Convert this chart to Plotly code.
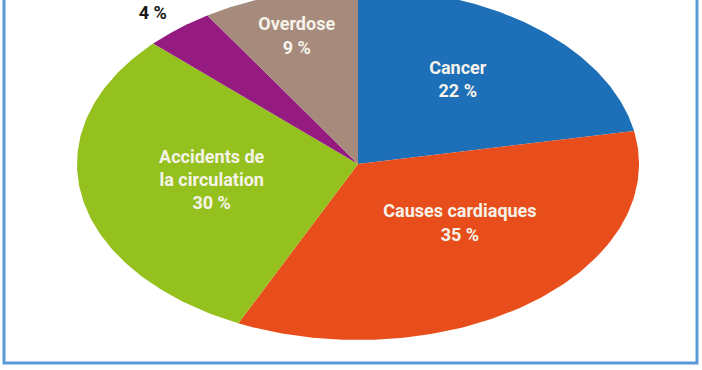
import numpy as np
import plotly.graph_objects as go

# ---- data ----
categories = ["Cancer", "Causes cardiaques", "Accidents de la circulation", "Autres", "Overdose"]
shares = [22, 35, 30, 4, 9]
label_texts = ["Cancer<br>22 %", "Causes cardiaques<br>35 %",
               "Accidents de<br>la circulation<br>30 %", "4 %", "Overdose<br>9 %"]

# ---- style ----
colors = ["#1d6fb8", "#e84e1b", "#95c11f", "#951b81", "#a68b7d"]
text_colors = ["#f6f3ea", "#f6f3ea", "#f6f3ea", "#1a1a1a", "#f6f3ea"]
label_radius = [0.59, 0.50, 0.53, 1.12, 0.75]
label_angle_shift = [-2.6, -8.7, 0.0, -1.1, -0.7]

W, H = 702, 370
cx, cy, rx, ry = 358.0, 164.0, 281.0, 176.0  # ellipse in pixels

fig = go.Figure()
total = float(sum(shares))
start = 0.0
for i, (cat, v) in enumerate(zip(categories, shares)):
    a0 = start / total * 2 * np.pi
    a1 = (start + v) / total * 2 * np.pi
    t = np.linspace(a0, a1, 120)
    xs = np.concatenate([[0.0], np.sin(t), [0.0]])
    ys = np.concatenate([[0.0], np.cos(t), [0.0]])
    fig.add_trace(go.Scatter(x=xs, y=ys, mode="lines", fill="toself",
                             fillcolor=colors[i], line=dict(width=0, color=colors[i]),
                             name=cat, hoverinfo="skip", showlegend=False))
    mid = (a0 + a1) / 2 + np.deg2rad(label_angle_shift[i])
    r = label_radius[i]
    fig.add_trace(go.Scatter(x=[r * np.sin(mid)], y=[r * np.cos(mid)], mode="text",
                             text=[label_texts[i]], textposition="middle center",
                             textfont=dict(family="Roboto", size=18, color=text_colors[i],
                                           weight="bold"),
                             hoverinfo="skip", showlegend=False))
    start += v

fig.update_xaxes(range=[-cx / rx, (W - cx) / rx], visible=False, fixedrange=True)
fig.update_yaxes(range=[-(H - cy) / ry, cy / ry], visible=False, fixedrange=True)

fig.add_shape(type="rect", xref="paper", yref="paper",
              x0=4 / W, x1=697 / W, y0=1 - 363 / H, y1=1.2,
              line=dict(color="#5b9bd5", width=3), fillcolor="rgba(0,0,0,0)", layer="above")

fig.update_layout(width=W, height=H, margin=dict(l=0, r=0, t=0, b=0),
                  paper_bgcolor="white", plot_bgcolor="white", showlegend=False)

fig.write_html("out.html", config={"displayModeBar": False},
               post_script="document.body.style.margin='0';document.body.style.overflow='hidden';")
